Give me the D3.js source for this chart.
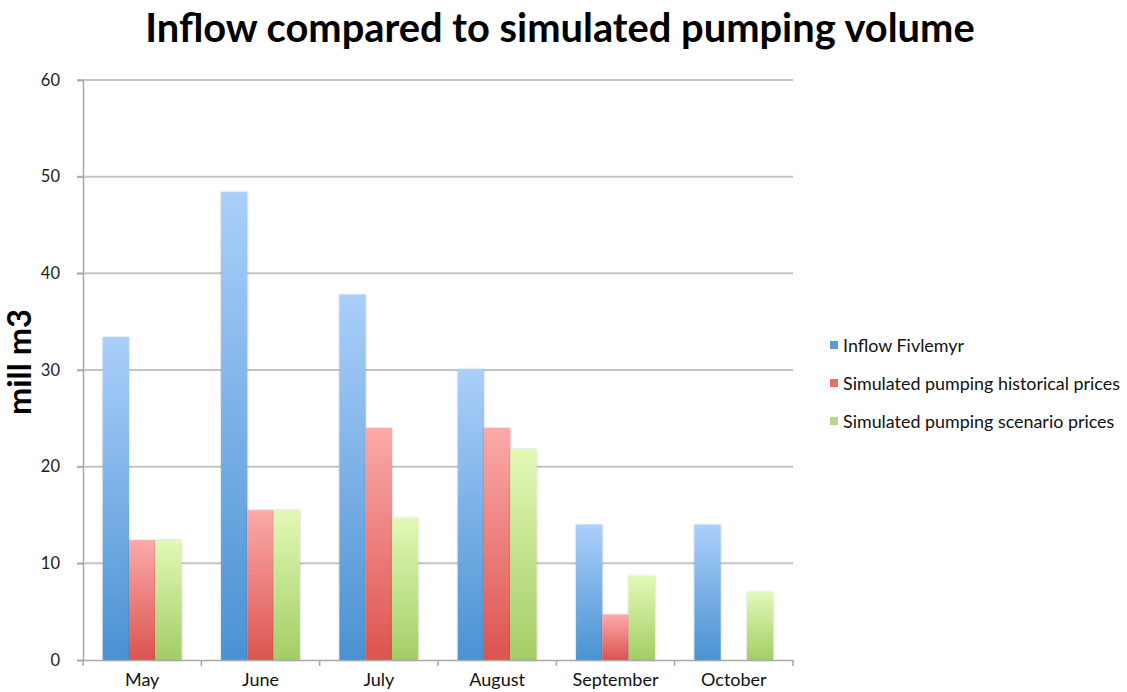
<!DOCTYPE html>
<html>
<head>
<meta charset="utf-8">
<script src="https://cdn.jsdelivr.net/npm/d3@7"></script>
<style>
  html, body { margin: 0; padding: 0; background: #ffffff; }
  svg { display: block; }
  text { font-family: Lato, "Open Sans", sans-serif; }
</style>
</head>
<body>
<svg id="chart" width="1127" height="692"></svg>
<script>
// Monthly volumes, million m3
const months = ["May", "June", "July", "August", "September", "October"];
const seriesNames = [
  "Inflow Fivlemyr",
  "Simulated pumping historical prices",
  "Simulated pumping scenario prices"
];
const inflow     = [33.4, 48.4, 37.8, 30.1, 14.0, 14.0];
const historical = [12.4, 15.5, 24.0, 24.0, 4.7, 0];
const scenario   = [12.4, 15.5, 14.7, 21.8, 8.7, 7.0];
const yTicks = [0, 10, 20, 30, 40, 50, 60];

const seriesValues = [inflow, historical, scenario];
const gradients = [
  ["#aacffa", "#4a92d2"],
  ["#fbaaa9", "#dc544f"],
  ["#e2f9b6", "#a3cd66"]
];
const swatch = ["#5b9bd5", "#e8706c", "#b5d88a"];

const svg = d3.select("#chart");
const margin = { left: 83, right: 334, top: 80, bottom: 32 };
const W = 1127, H = 692;

// font size that makes a text's rendered width equal a target width
function fittedSize(node, target) {
  const base = parseFloat(d3.select(node).attr("font-size"));
  const w = node.getComputedTextLength();
  return w > 0 ? base * target / w : base;
}
function fitWidth(sel, target) {
  sel.attr("font-size", fittedSize(sel.node(), target).toFixed(2));
}

const x = d3.scaleBand()
  .domain(months)
  .range([margin.left, W - margin.right])
  .paddingInner(0)
  .paddingOuter(0);

const inner = d3.scaleBand()
  .domain(d3.range(seriesNames.length))
  .range([0, x.bandwidth()])
  .paddingOuter(0.75)
  .paddingInner(0);

const y = d3.scaleLinear().domain([0, 60]).range([H - margin.bottom, margin.top]);

// gradients for bars
const defs = svg.append("defs");
gradients.forEach((g, i) => {
  const lg = defs.append("linearGradient")
    .attr("id", "grad" + i)
    .attr("x1", 0).attr("y1", 0).attr("x2", 0).attr("y2", 1);
  lg.append("stop").attr("offset", "0%").attr("stop-color", g[0]);
  lg.append("stop").attr("offset", "100%").attr("stop-color", g[1]);
});
const shadow = defs.append("filter").attr("id", "soft")
  .attr("x", "-20%").attr("y", "-5%").attr("width", "140%").attr("height", "110%");
shadow.append("feGaussianBlur").attr("in", "SourceAlpha").attr("stdDeviation", 1).attr("result", "b");
shadow.append("feComponentTransfer").attr("in", "b").attr("result", "s")
  .append("feFuncA").attr("type", "linear").attr("slope", 0.25);
const merge = shadow.append("feMerge");
merge.append("feMergeNode").attr("in", "s");
merge.append("feMergeNode").attr("in", "SourceGraphic");

// horizontal gridlines
svg.append("g")
  .selectAll("line")
  .data(yTicks.filter(d => d > 0))
  .join("line")
  .attr("x1", margin.left - 6)
  .attr("x2", W - margin.right)
  .attr("y1", d => y(d))
  .attr("y2", d => y(d))
  .attr("stroke", "#c4c4c4")
  .attr("stroke-width", 2);

// y axis
const yAxis = svg.append("g")
  .attr("transform", `translate(${margin.left},0)`)
  .call(d3.axisLeft(y).tickValues(yTicks).tickSize(6).tickPadding(17));
yAxis.select(".domain").attr("stroke", "#a8a8a8").attr("stroke-width", 1.5);
yAxis.selectAll(".tick line").attr("stroke", "#a8a8a8").attr("stroke-width", 1.5);
yAxis.selectAll(".tick text")
  .attr("font-size", 16.5)
  .attr("fill", "#222")
  .style("font-family", "Lato, sans-serif");

// bars
const groups = svg.append("g")
  .selectAll("g")
  .data(months)
  .join("g")
  .attr("transform", d => `translate(${x(d)},0)`);

groups.selectAll("rect")
  .data((m, mi) => seriesValues.map((vals, si) => ({ si, v: vals[mi] })))
  .join("rect")
  .filter(d => d.v > 0)
  .attr("x", d => inner(d.si))
  .attr("width", inner.bandwidth())
  .attr("y", d => y(d.v))
  .attr("height", d => y(0) - y(d.v))
  .attr("fill", d => `url(#grad${d.si})`)
  .attr("filter", "url(#soft)");

// x axis
const xAxis = svg.append("g")
  .attr("transform", `translate(0,${y(0)})`)
  .call(d3.axisBottom(x).tickSize(0).tickPadding(13));
xAxis.select(".domain").attr("stroke", "#a8a8a8").attr("stroke-width", 1.5);
const xLabels = xAxis.selectAll(".tick text")
  .attr("font-size", 16)
  .attr("fill", "#111")
  .style("font-family", "Lato, sans-serif");
const xSize = fittedSize(xLabels.filter(d => d === "September").node(), 86);
xLabels.attr("font-size", xSize.toFixed(2));
// ticks at category boundaries
xAxis.append("g")
  .selectAll("line")
  .data(months.map(m => x(m)).concat([x(months[months.length - 1]) + x.bandwidth()]))
  .join("line")
  .attr("x1", d => d).attr("x2", d => d)
  .attr("y1", 0).attr("y2", 6)
  .attr("stroke", "#a8a8a8").attr("stroke-width", 1.5);

// title
const title = svg.append("text")
  .attr("x", 560)
  .attr("y", 42)
  .attr("text-anchor", "middle")
  .attr("font-size", 34)
  .attr("font-weight", "bold")
  .attr("fill", "#000")
  .text("Inflow compared to simulated pumping volume");
fitWidth(title, 830);

// y axis label
const yLabel = svg.append("text")
  .attr("transform", "translate(31,362) rotate(-90)")
  .attr("text-anchor", "middle")
  .attr("font-size", 24)
  .attr("font-weight", "bold")
  .attr("fill", "#000")
  .text("mill m3");
fitWidth(yLabel, 106);

// legend
const legend = svg.append("g")
  .selectAll("g")
  .data(seriesNames)
  .join("g")
  .attr("transform", (d, i) => `translate(830,${346 + i * 38})`);
legend.append("rect")
  .attr("x", 0).attr("y", -5)
  .attr("width", 8).attr("height", 8)
  .attr("fill", (d, i) => swatch[i]);
const legendText = legend.append("text")
  .attr("x", 13)
  .attr("y", 6)
  .attr("font-size", 16)
  .attr("fill", "#111")
  .text(d => d);
const legendSize = fittedSize(legendText.filter((d, i) => i === 1).node(), 277);
legendText.attr("font-size", legendSize.toFixed(2));
</script>
</body>
</html>
